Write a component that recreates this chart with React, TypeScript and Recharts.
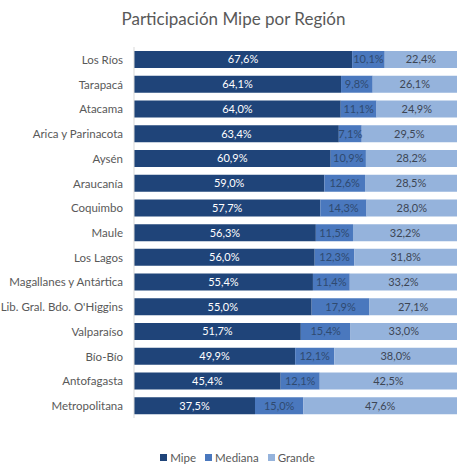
import React from "react";
import { Bar, BarChart, LabelList, Legend, XAxis, YAxis } from "recharts";

const regions = [
  "Los Ríos",
  "Tarapacá",
  "Atacama",
  "Arica y Parinacota",
  "Aysén",
  "Araucanía",
  "Coquimbo",
  "Maule",
  "Los Lagos",
  "Magallanes y Antártica",
  "Lib. Gral. Bdo. O'Higgins",
  "Valparaíso",
  "Bío-Bío",
  "Antofagasta",
  "Metropolitana",
];
const mipe = [67.6, 64.1, 64.0, 63.4, 60.9, 59.0, 57.7, 56.3, 56.0, 55.4, 55.0, 51.7, 49.9, 45.4, 37.5];
const mediana = [10.1, 9.8, 11.1, 7.1, 10.9, 12.6, 14.3, 11.5, 12.3, 11.4, 17.9, 15.4, 12.1, 12.1, 15.0];
const grande = [22.4, 26.1, 24.9, 29.5, 28.2, 28.5, 28.0, 32.2, 31.8, 33.2, 27.1, 33.0, 38.0, 42.5, 47.6];

const series = [
  { key: "mipe", name: "Mipe", color: "#1f4479", label: "#ffffff" },
  { key: "mediana", name: "Mediana", color: "#4a78be", label: "#2f4a70" },
  { key: "grande", name: "Grande", color: "#95b3dc", label: "#3d4654" },
];

const data = regions.map((region, i) => ({
  region,
  mipe: mipe[i],
  mediana: mediana[i],
  grande: grande[i],
}));

const FONT = "Lato, 'Open Sans', sans-serif";
const fmt = (v: any) => `${Number(v).toFixed(1).replace(".", ",")}%`;

const RegionTick = ({ x, y, payload }: any) => (
  <text x={x} y={y} textAnchor="end" dominantBaseline="central" fontSize={11.5} fill="#595959" fontFamily={FONT}>
    {payload.value}
  </text>
);

const LegendContent = () => (
  <div
    style={{
      display: "flex",
      justifyContent: "center",
      gap: 9,
      paddingLeft: 18,
      fontSize: 11.5,
      color: "#595959",
    }}
  >
    {series.map((s) => (
      <span key={s.key} style={{ display: "inline-flex", alignItems: "center" }}>
        <span style={{ width: 7, height: 7, background: s.color, marginRight: 3, display: "inline-block" }} />
        {s.name}
      </span>
    ))}
  </div>
);

export default function App() {
  return (
    <div style={{ position: "absolute", left: 0, top: 0, width: 467, height: 468, fontFamily: FONT, background: "#fff" }}>
      <div
        style={{
          position: "absolute",
          top: 8,
          left: 0,
          width: 467,
          textAlign: "center",
          fontSize: 17,
          color: "#595959",
        }}
      >
        Participación Mipe por Región
      </div>
      <BarChart
        width={467}
        height={468}
        data={data}
        layout="vertical"
        stackOffset="expand"
        margin={{ top: 47, right: 10, bottom: 37, left: 0 }}
      >
        <XAxis type="number" hide domain={[0, 1]} />
        <YAxis
          type="category"
          dataKey="region"
          width={134}
          tickLine={false}
          tickSize={0}
          tickMargin={11}
          axisLine={{ stroke: "#d9d9d9" }}
          tick={<RegionTick />}
          interval={0}
        />
        <Legend verticalAlign="bottom" content={<LegendContent />} wrapperStyle={{ bottom: 4 }} />
        {series.map((s) => (
          <Bar key={s.key} dataKey={s.key} name={s.name} stackId="a" fill={s.color} barSize={17} isAnimationActive={false}>
            <LabelList dataKey={s.key} position="center" formatter={fmt} fill={s.label} fontSize={11} />
          </Bar>
        ))}
      </BarChart>
    </div>
  );
}
